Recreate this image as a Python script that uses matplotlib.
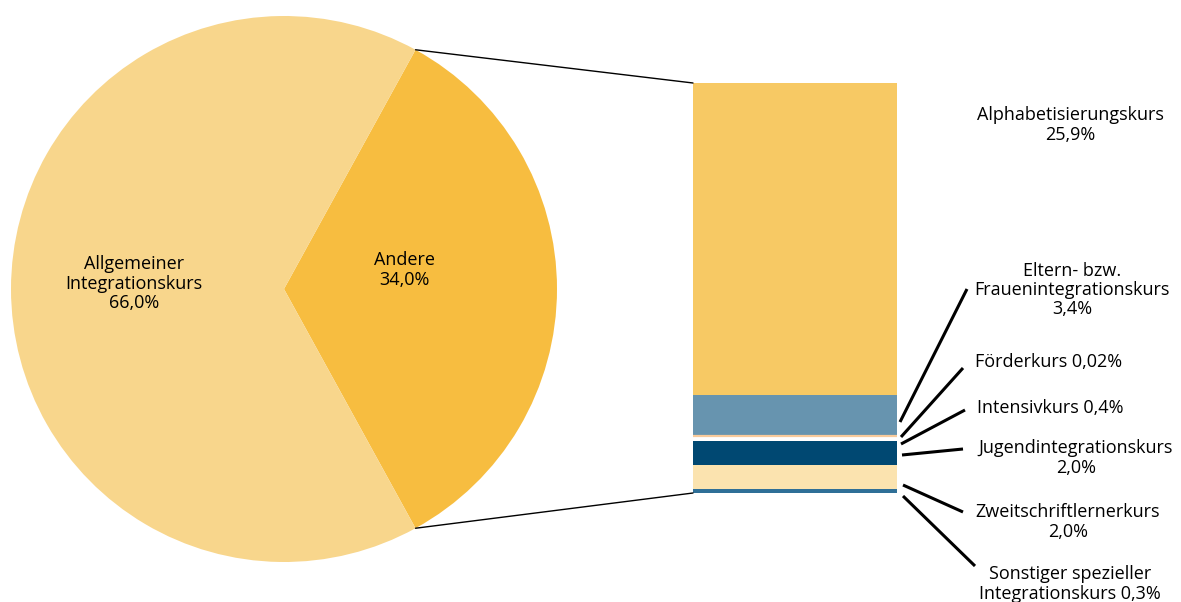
import matplotlib.pyplot as plt
from matplotlib.patches import ConnectionPatch
import numpy as np

plt.rcParams['font.family'] = ['Open Sans', 'DejaVu Sans']

# Kreisdiagramm
pie_labels = ['Andere', 'Allgemeiner\nIntegrationskurs']
pie_values = [34.0, 66.0]
pie_colors = ['#F7BD40', '#F8D68C']
pie_texts = ['Andere\n34,0%', 'Allgemeiner\nIntegrationskurs\n66,0%']

# Aufschlüsselung "Andere" (von oben nach unten)
kurse = ['Alphabetisierungskurs', 'Eltern- bzw. Frauenintegrationskurs', 'Förderkurs',
         'Intensivkurs', 'Jugendintegrationskurs', 'Zweitschriftlernerkurs',
         'Sonstiger spezieller Integrationskurs']
anteile = [25.9, 3.4, 0.02, 0.4, 2.0, 2.0, 0.3]
farben = ['#F7C964', '#6794AF', '#F9CB9C', '#FFFFFF', '#004872', '#FBE3AF', '#2F6F97']
kurs_texte = ['Alphabetisierungskurs\n25,9%', 'Eltern- bzw.\nFrauenintegrationskurs\n3,4%',
              'Förderkurs 0,02%', 'Intensivkurs 0,4%', 'Jugendintegrationskurs\n2,0%',
              'Zweitschriftlernerkurs\n2,0%', 'Sonstiger spezieller\nIntegrationskurs 0,3%']

W, H = 1181, 602
FS = 13
LS = 1.1
fig = plt.figure(figsize=(W / 100, H / 100), dpi=100)

# Kreis
ax_pie = fig.add_axes([11 / W, (H - 562) / H, 546 / W, 546 / H])
half = pie_values[0] / 100 * 360 / 2
wedges, _ = ax_pie.pie(pie_values, colors=pie_colors, startangle=-half,
                       counterclock=True, radius=1)
ax_pie.set_xlim(-1, 1)
ax_pie.set_ylim(-1, 1)
ax_pie.text(0.44, 0.07, pie_texts[0], ha='center', va='center', fontsize=FS, linespacing=LS)
ax_pie.text(-0.55, 0.02, pie_texts[1], ha='center', va='center', fontsize=FS, linespacing=LS)

# gestapelter Balken
ax_bar = fig.add_axes([693 / W, (H - 493) / H, 204 / W, 410 / H])
total = sum(anteile)
bottom = total
for a, c in zip(anteile, farben):
    bottom -= a
    if a < 0.1:
        # sehr kleiner Anteil: als schmaler Strich sichtbar machen
        ax_bar.bar(0, a, bottom=bottom, width=1, color=c, edgecolor=c, linewidth=1.6, zorder=3)
    else:
        ax_bar.bar(0, a, bottom=bottom, width=1, color=c, linewidth=0, zorder=2)
ax_bar.set_xlim(-0.5, 0.5)
ax_bar.set_ylim(0, total)
ax_bar.axis('off')

# Verbindungslinien Kreis -> Balken
t = np.deg2rad(half)
for sgn, yb in [(1, total), (-1, 0)]:
    con = ConnectionPatch(xyA=(np.cos(t), sgn * np.sin(t)), coordsA=ax_pie.transData,
                          xyB=(-0.5, yb), coordsB=ax_bar.transData,
                          color='black', lw=1.0)
    fig.add_artist(con)

# Beschriftungen (Pixelkoordinaten)
ax = fig.add_axes([0, 0, 1, 1], facecolor='none')
ax.set_xlim(0, W)
ax.set_ylim(H, 0)
ax.axis('off')

text_pos = [(1070, 125, 'center'), (1072, 290, 'center'), (975, 362, 'left'),
            (977, 408, 'left'), (1076, 458, 'center'), (1068, 522, 'center'),
            (1070, 584, 'center')]
leader = [None, ((900, 422), (967, 289)), ((901, 437), (963, 368)), ((901, 444), (965, 410)),
          ((902, 455), (963, 449)), ((903, 485), (963, 512)), ((903, 496), (975, 566))]

for txt, (x, y, ha), ld in zip(kurs_texte, text_pos, leader):
    ax.text(x, y, txt, ha=ha, va='center', fontsize=FS, linespacing=LS)
    if ld:
        ax.plot([ld[0][0], ld[1][0]], [ld[0][1], ld[1][1]], color='black', lw=2.2,
                solid_capstyle='butt')

fig.savefig('out.png', dpi=100)
